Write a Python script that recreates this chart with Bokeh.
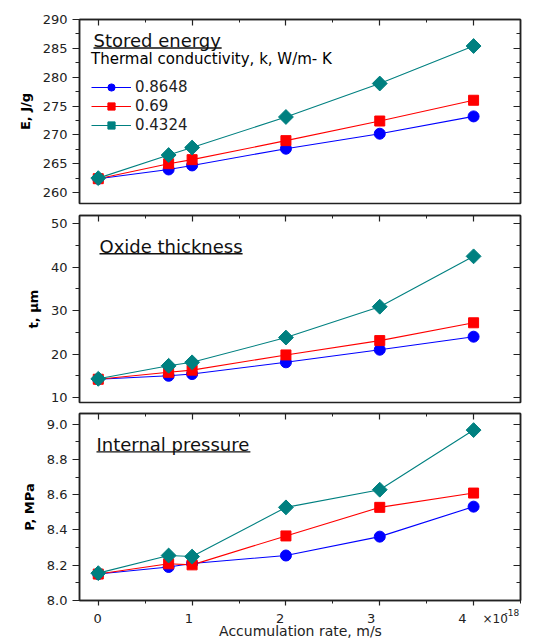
import math
from bokeh.plotting import figure
from bokeh.layouts import column
from bokeh.models import (Range1d, LinearAxis, SingleIntervalTicker, Legend, LegendItem,
                          Label, BoxAnnotation, PrintfTickFormatter, CustomJSTickFormatter)
from bokeh.core.properties import value
from bokeh.embed import file_html
from bokeh.resources import INLINE

# ---------------- data ----------------
x_rate = [0, 0.75, 1, 2, 3, 4]          # accumulation rate, x 1e-18 m/s
k_labels = ["0.8648", "0.69", "0.4324"]  # thermal conductivity, W/m-K

E_k08648 = [262.4, 264.0, 264.7, 267.6, 270.2, 273.2]
E_k069 = [262.4, 265.0, 265.7, 269.0, 272.4, 276.0]
E_k04324 = [262.5, 266.5, 267.8, 273.1, 278.9, 285.4]

t_k08648 = [14.2, 15.0, 15.4, 18.1, 21.0, 24.0]
t_k069 = [14.2, 15.8, 16.3, 19.8, 23.1, 27.2]
t_k04324 = [14.3, 17.3, 18.1, 23.8, 30.9, 42.5]

P_k08648 = [8.150, 8.190, 8.210, 8.255, 8.362, 8.532]
P_k069 = [8.150, 8.208, 8.202, 8.366, 8.528, 8.609]
P_k04324 = [8.155, 8.255, 8.249, 8.528, 8.628, 8.966]

x_tick_values = [0, 1, 2, 3, 4]
x_tick_labels = ["0", "1", "2", "3", "4"]
x_multiplier = "\u00d710"
x_exponent = "-18"

panel_titles = ["Stored energy", "Oxide thickness", "Internal pressure"]
y_labels = ["E, J/g", "t, \u03bcm", "P, MPa"]
legend_title = "Thermal conductivity, k, W/m- K"
x_label = "Accumulation rate, m/s"

# ---------------- styles ----------------
colors = ["#0000FF", "#FF0000", "#008080"]
markers = ["circle", "square", "square"]
msizes = [11, 10, 10.5]
mangles = [0, 0, math.pi / 4]
FONT = "DejaVu Sans"
DARK = "#222222"
W = 533
FRAME_L, FRAME_R = 79, 13
X0, X1 = -0.2, 4.5
XR = Range1d(X0, X1)


def base_axis(ax, tin, tout, min_in, min_out):
    ax.major_tick_in = tin
    ax.major_tick_out = tout
    ax.minor_tick_in = min_in
    ax.minor_tick_out = min_out
    ax.axis_line_color = DARK
    ax.axis_line_width = 1.5
    ax.major_tick_line_color = DARK
    ax.major_tick_line_width = 1.2
    ax.minor_tick_line_color = DARK
    ax.minor_tick_line_width = 1.0


def hide_labels(ax):
    ax.formatter = CustomJSTickFormatter(code="return ''")
    ax.major_label_text_font_size = "1px"
    ax.major_label_standoff = 0


def make_panel(height, b_top, b_bottom, yr, yint, yfmt, series, title, ylab,
               title_x, title_dy, ul_dy, title_w, legend=False, bottom_ticks=False):
    fh = height - b_top - b_bottom
    p = figure(width=W, height=height, x_range=XR, y_range=Range1d(*yr),
               output_backend="svg", toolbar_location=None,
               x_axis_location=None,
               min_border_left=FRAME_L, min_border_right=FRAME_R,
               min_border_top=b_top, min_border_bottom=b_bottom)
    p.xgrid.visible = False
    p.ygrid.visible = False
    p.outline_line_color = DARK
    p.outline_line_width = 1.5
    p.background_fill_color = "white"
    p.border_fill_color = "white"

    ly = p.yaxis[0]
    ly.ticker = SingleIntervalTicker(interval=yint, num_minor_ticks=2)
    base_axis(ly, 0, 7, 0, 4)
    ly.major_label_text_font = FONT
    ly.major_label_text_font_size = "13px"
    ly.major_label_text_color = DARK
    ly.major_label_standoff = 5
    if yfmt:
        ly.formatter = PrintfTickFormatter(format=yfmt)
    ly.axis_label = ylab
    ly.axis_label_text_font = FONT
    ly.axis_label_text_font_size = "13px"
    ly.axis_label_text_font_style = "bold"
    ly.axis_label_text_color = "black"
    ly.axis_label_standoff = 7

    ta = LinearAxis(ticker=SingleIntervalTicker(interval=1, num_minor_ticks=2))
    base_axis(ta, 6, 0, 3, 0)
    hide_labels(ta)
    p.add_layout(ta, "above")
    ra = LinearAxis(ticker=SingleIntervalTicker(interval=yint, num_minor_ticks=2))
    base_axis(ra, 7, 0, 4, 0)
    hide_labels(ra)
    p.add_layout(ra, "right")
    if bottom_ticks:
        ba = LinearAxis(ticker=SingleIntervalTicker(interval=1, num_minor_ticks=2))
        base_axis(ba, 0, 5, 0, 3)
        hide_labels(ba)
        p.add_layout(ba, "below")

    line_rs, mark_rs = [], []
    for i, ys in enumerate(series):
        line_rs.append(p.line(x_rate, ys, line_color=colors[i], line_width=1.1))
    for i, ys in enumerate(series):
        mark_rs.append(p.scatter(x_rate, ys, marker=markers[i], size=msizes[i],
                                 angle=mangles[i], fill_color=colors[i],
                                 line_color=colors[i], line_width=1))

    if legend:
        items = [LegendItem(label=k_labels[i], renderers=[line_rs[i], mark_rs[i]])
                 for i in range(len(series))]
        lg = Legend(items=items, title=legend_title, location=(12, 69),
                    title_text_font=FONT, title_text_font_size="15px",
                    title_text_font_style="normal", title_text_color="black",
                    title_standoff=10,
                    label_text_font=FONT, label_text_font_size="15px", label_text_color=DARK,
                    glyph_width=40, glyph_height=18, label_height=18, label_standoff=4,
                    spacing=1, padding=0, margin=0, border_line_color=None,
                    background_fill_alpha=0)
        p.add_layout(lg)

    p.add_layout(Label(x=title_x, y=fh - title_dy, x_units="screen", y_units="screen",
                       text=title, text_font=FONT, text_font_size="18px",
                       text_color="#111111", text_baseline="middle"))
    p.add_layout(BoxAnnotation(left=title_x, right=title_x + title_w,
                               bottom=fh - ul_dy - 0.7, top=fh - ul_dy + 0.7,
                               left_units="screen", right_units="screen",
                               bottom_units="screen", top_units="screen",
                               fill_color="#111111", fill_alpha=1.0, line_alpha=0))
    return p


p1 = make_panel(209, 19, 6, (258.1, 290), 5, None,
                [E_k08648, E_k069, E_k04324], panel_titles[0], y_labels[0],
                14, 21, 28.5, 7.12 * 18, legend=True)
p2 = make_panel(198, 6, 5, (8.85, 51.9), 10, None,
                [t_k08648, t_k069, t_k04324], panel_titles[1], y_labels[1],
                20, 31, 38.3, 7.95 * 18)
p3 = make_panel(201, 6, 8, (8.0, 9.06), 0.2, "%.1f",
                [P_k08648, P_k069, P_k04324], panel_titles[2], y_labels[2],
                17, 31, 38.4, 8.55 * 18, bottom_ticks=True)

# strip under the bottom panel: x tick labels and axis title.
# Its frame runs to the right edge of the canvas, so its x range is widened to keep
# the same data-to-pixel scale as the panels above.
STRIP_H = 30
frame_w = W - FRAME_L - FRAME_R
strip_w = W - FRAME_L
XR4 = Range1d(X0, X0 + (X1 - X0) * strip_w / frame_w)
p4 = figure(width=W, height=STRIP_H, x_range=XR4, y_range=Range1d(-STRIP_H, 0),
            output_backend="svg", toolbar_location=None,
            x_axis_location=None, y_axis_location=None,
            min_border_left=FRAME_L, min_border_right=0,
            min_border_top=0, min_border_bottom=0)
p4.xgrid.visible = False
p4.ygrid.visible = False
p4.outline_line_color = None
p4.text(x=x_tick_values, y=[-10] * len(x_tick_values), text=x_tick_labels,
        text_font=value(FONT), text_font_size="13px", text_color=DARK,
        text_align="center", text_baseline="middle")
p4.add_layout(Label(x=403, y=-10, x_units="screen", text=x_multiplier,
                    text_font=FONT, text_font_size="12px", text_color=DARK,
                    text_baseline="middle"))
p4.add_layout(Label(x=425, y=-0.5, x_units="screen", text=x_exponent,
                    text_font=FONT, text_font_size="9px", text_color=DARK,
                    text_baseline="top"))
p4.add_layout(Label(x=221, y=-22, x_units="screen", text=x_label,
                    text_font=FONT, text_font_size="14px", text_color=DARK,
                    text_align="center", text_baseline="middle"))

layout = column(p1, p2, p3, p4)
open("out.html", "w").write(file_html(layout, INLINE))
